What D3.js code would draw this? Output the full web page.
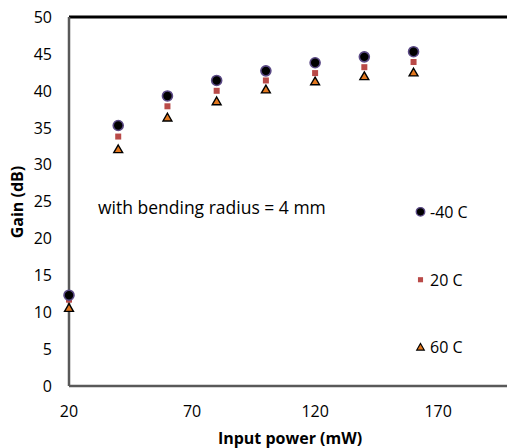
<!DOCTYPE html>
<html><head><meta charset="utf-8">
<script src="https://cdn.jsdelivr.net/npm/d3@7"></script>
<style>body{margin:0;background:#fff}svg{display:block;font-family:"Open Sans",Lato,sans-serif}</style>
</head><body><svg id="c" width="507" height="448"></svg>
<script>
const power = [20, 40, 60, 80, 100, 120, 140, 160];
const gainM40 = [12.3, 35.3, 39.3, 41.4, 42.7, 43.8, 44.6, 45.3];
const gain20 = [11.7, 33.8, 37.9, 40.0, 41.4, 42.4, 43.2, 43.9];
const gain60 = [10.6, 32.1, 36.4, 38.6, 40.2, 41.3, 42.0, 42.5];
const xTicks = [20, 70, 120, 170];
const yTicks = [0, 5, 10, 15, 20, 25, 30, 35, 40, 45, 50];
const seriesNames = ["-40 C", "20 C", "60 C"];
const legendY = [23.6, 14.4, 5.3];

const svg = d3.select("#c");
const x = d3.scaleLinear().domain([20, 200]).range([69, 512]);
const y = d3.scaleLinear().domain([0, 50]).range([386, 17]);

// axes
svg.append("line").attr("x1", 69).attr("x2", 507).attr("y1", y(50)).attr("y2", y(50))
  .attr("stroke", "#000").attr("stroke-width", 3);
svg.append("line").attr("x1", 69).attr("x2", 69).attr("y1", y(50)).attr("y2", y(0))
  .attr("stroke", "#595959").attr("stroke-width", 2.5);
svg.append("line").attr("x1", 69).attr("x2", 507).attr("y1", y(0)).attr("y2", y(0))
  .attr("stroke", "#595959").attr("stroke-width", 2.5);

svg.selectAll(".yt").data(yTicks).join("text")
  .attr("x", 52).attr("y", d => y(d) + 5.8)
  .attr("text-anchor", "end").attr("font-size", 16).attr("fill", "#000").text(d => d);
svg.selectAll(".xt").data(xTicks).join("text")
  .attr("x", d => x(d)).attr("y", 416.5)
  .attr("text-anchor", "middle").attr("font-size", 16).attr("fill", "#000").text(d => d);

svg.append("text").attr("transform", "translate(23,202) rotate(-90)")
  .attr("text-anchor", "middle").attr("font-size", 16).attr("font-weight", "bold").text("Gain (dB)");
svg.append("text").attr("x", 290).attr("y", 444)
  .attr("text-anchor", "middle").attr("font-size", 16).attr("font-weight", "bold").text("Input power (mW)");

svg.append("text").attr("x", 98).attr("y", 214).attr("font-size", 17.5).text("with bending radius = 4 mm");

function drawCircle(g, cx, cy, s) {
  g.append("circle").attr("cx", cx).attr("cy", cy).attr("r", 5 * s)
    .attr("fill", "#000").attr("stroke", "#5b4a86").attr("stroke-width", 1.6 * s);
}
function drawSquare(g, cx, cy, s) {
  const h = 3 * s;
  g.append("rect").attr("x", cx - h).attr("y", cy - h).attr("width", 2 * h).attr("height", 2 * h)
    .attr("fill", "#b94a48");
}
function drawTri(g, cx, cy, s) {
  g.append("path").attr("d", d3.symbol().type(d3.symbolTriangle).size(34 * s * s))
    .attr("transform", `translate(${cx},${cy + 1})`)
    .attr("fill", "#e3781f").attr("stroke", "#000").attr("stroke-width", 1.4 * s);
}

const gm = svg.append("g");
power.forEach((p, i) => drawTri(gm, x(p), y(gain60[i]), 1));
power.forEach((p, i) => drawSquare(gm, x(p), y(gain20[i]), 1));
power.forEach((p, i) => drawCircle(gm, x(p), y(gainM40[i]), 1));

// legend
const drawers = [drawCircle, drawSquare, drawTri];
seriesNames.forEach((n, i) => {
  drawers[i](svg, 420.5, y(legendY[i]), 0.85);
  svg.append("text").attr("x", 430).attr("y", y(legendY[i]) + 6.5)
    .attr("font-size", 16).text(n);
});
</script></body></html>
